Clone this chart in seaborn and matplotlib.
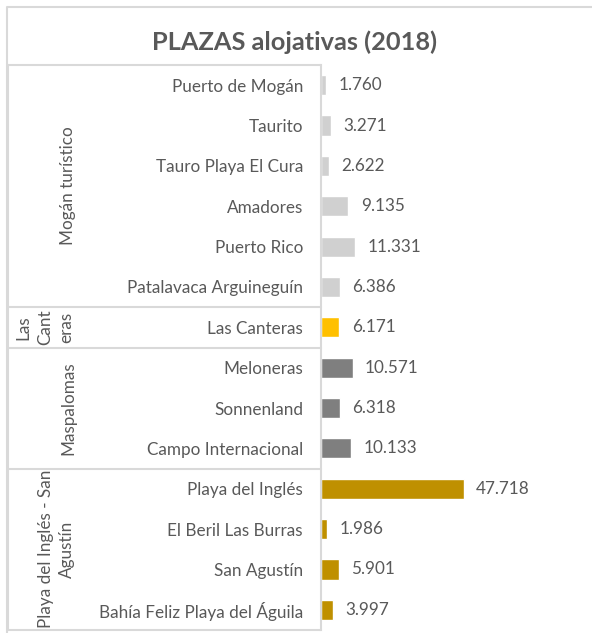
#!/usr/bin/env python
''' Horizontal bar chart of tourist beds (plazas alojativas) by zone, 2018.
'''

import pandas as pd
import seaborn as sns
import matplotlib.pyplot as plt
import matplotlib.transforms as mtransforms
from matplotlib.lines import Line2D

zones = ['Puerto de Mogán', 'Taurito', 'Tauro Playa El Cura', 'Amadores',
         'Puerto Rico', 'Patalavaca Arguineguín', 'Las Canteras',
         'Meloneras', 'Sonnenland', 'Campo Internacional',
         'Playa del Inglés', 'El Beril Las Burras', 'San Agustín',
         'Bahía Feliz Playa del Águila']
plazas = [1760, 3271, 2622, 9135, 11331, 6386, 6171,
          10571, 6318, 10133, 47718, 1986, 5901, 3997]
groups = ['Mogán turístico'] * 6 + ['Las Canteras'] + ['Maspalomas'] * 3 + \
         ['Playa del Inglés - San Agustín'] * 4
group_labels = {'Mogán turístico': 'Mogán turístico',
                'Las Canteras': 'Las\nCant\neras',
                'Maspalomas': 'Maspalomas',
                'Playa del Inglés - San Agustín': 'Playa del Inglés - San\nAgustín'}
palette = {'Mogán turístico': '#D0D0D0', 'Las Canteras': '#FFC000',
           'Maspalomas': '#7F7F7F', 'Playa del Inglés - San Agustín': '#BF9000'}

TEXT = '#595959'
GRID = '#D9D9D9'
W, H = 592, 633
FS = 12.3


def fmt(v):
    return f'{v:,}'.replace(',', '.')


def main():
    df = pd.DataFrame({'zone': zones, 'plazas': plazas, 'group': groups})

    sns.set_style('white')
    plt.rcParams['font.family'] = ['Lato', 'DejaVu Sans']

    fig = plt.figure(figsize=(W / 100, H / 100), dpi=100)
    ax = fig.add_axes([321 / W, 1 - 630 / H, (590 - 321) / W, (630 - 65) / H])

    sns.barplot(data=df, x='plazas', y='zone', hue='group', palette=palette,
                dodge=False, width=0.5, legend=False, orient='h', ax=ax,
                order=zones, saturation=1)

    for cont in ax.containers:
        ax.bar_label(cont, labels=[fmt(int(b.get_width())) for b in cont],
                     padding=9, color=TEXT, fontsize=FS)

    ax.set_xlim(0, 90000)
    ax.set_ylim(13.5, -0.5)
    ax.set_xlabel('')
    ax.set_ylabel('')
    ax.set_xticks([])
    ax.tick_params(axis='y', length=0, pad=13, labelsize=FS, labelcolor=TEXT)
    for s in ['top', 'right', 'bottom']:
        ax.spines[s].set_visible(False)
    ax.spines['left'].set_color(GRID)
    ax.spines['left'].set_linewidth(1.5)

    # Category table drawn to the left of the axis.
    tr = mtransforms.blended_transform_factory(fig.transFigure, ax.transData)
    x0, x1 = 8 / W, 321 / W
    bounds = [-0.5]
    for i in range(1, len(groups)):
        if groups[i] != groups[i - 1]:
            bounds.append(i - 0.5)
    bounds.append(len(groups) - 0.5)
    for b in bounds:
        fig.add_artist(Line2D([x0, x1], [b, b], transform=tr,
                              color=GRID, lw=1.5))
    fig.add_artist(Line2D([x0, x0], [bounds[0], bounds[-1]], transform=tr,
                          color=GRID, lw=1.5))

    for g in dict.fromkeys(groups):
        rows = [i for i, gg in enumerate(groups) if gg == g]
        yc = (rows[0] + rows[-1]) / 2
        lines = group_labels[g].count('\n') + 1
        xc = 68 / W - (lines - 1) * 11.5 / W
        fig.text(xc, yc, group_labels[g], transform=tr, rotation=90,
                 ha='center', va='center', multialignment='center',
                 color=TEXT, fontsize=FS, linespacing=1.4)

    # Outer chart border and title.
    fig.add_artist(Line2D([7 / W, 7 / W, 1], [1 - 633 / H, 1 - 7 / H, 1 - 7 / H],
                          transform=fig.transFigure, color=GRID, lw=1.5))
    fig.text(295 / W, 1 - 42 / H, 'PLAZAS alojativas (2018)', ha='center',
             va='center', fontsize=18.3, fontweight='bold', color=TEXT)

    fig.savefig('out.png', dpi=100)


if __name__ == '__main__':
    main()
